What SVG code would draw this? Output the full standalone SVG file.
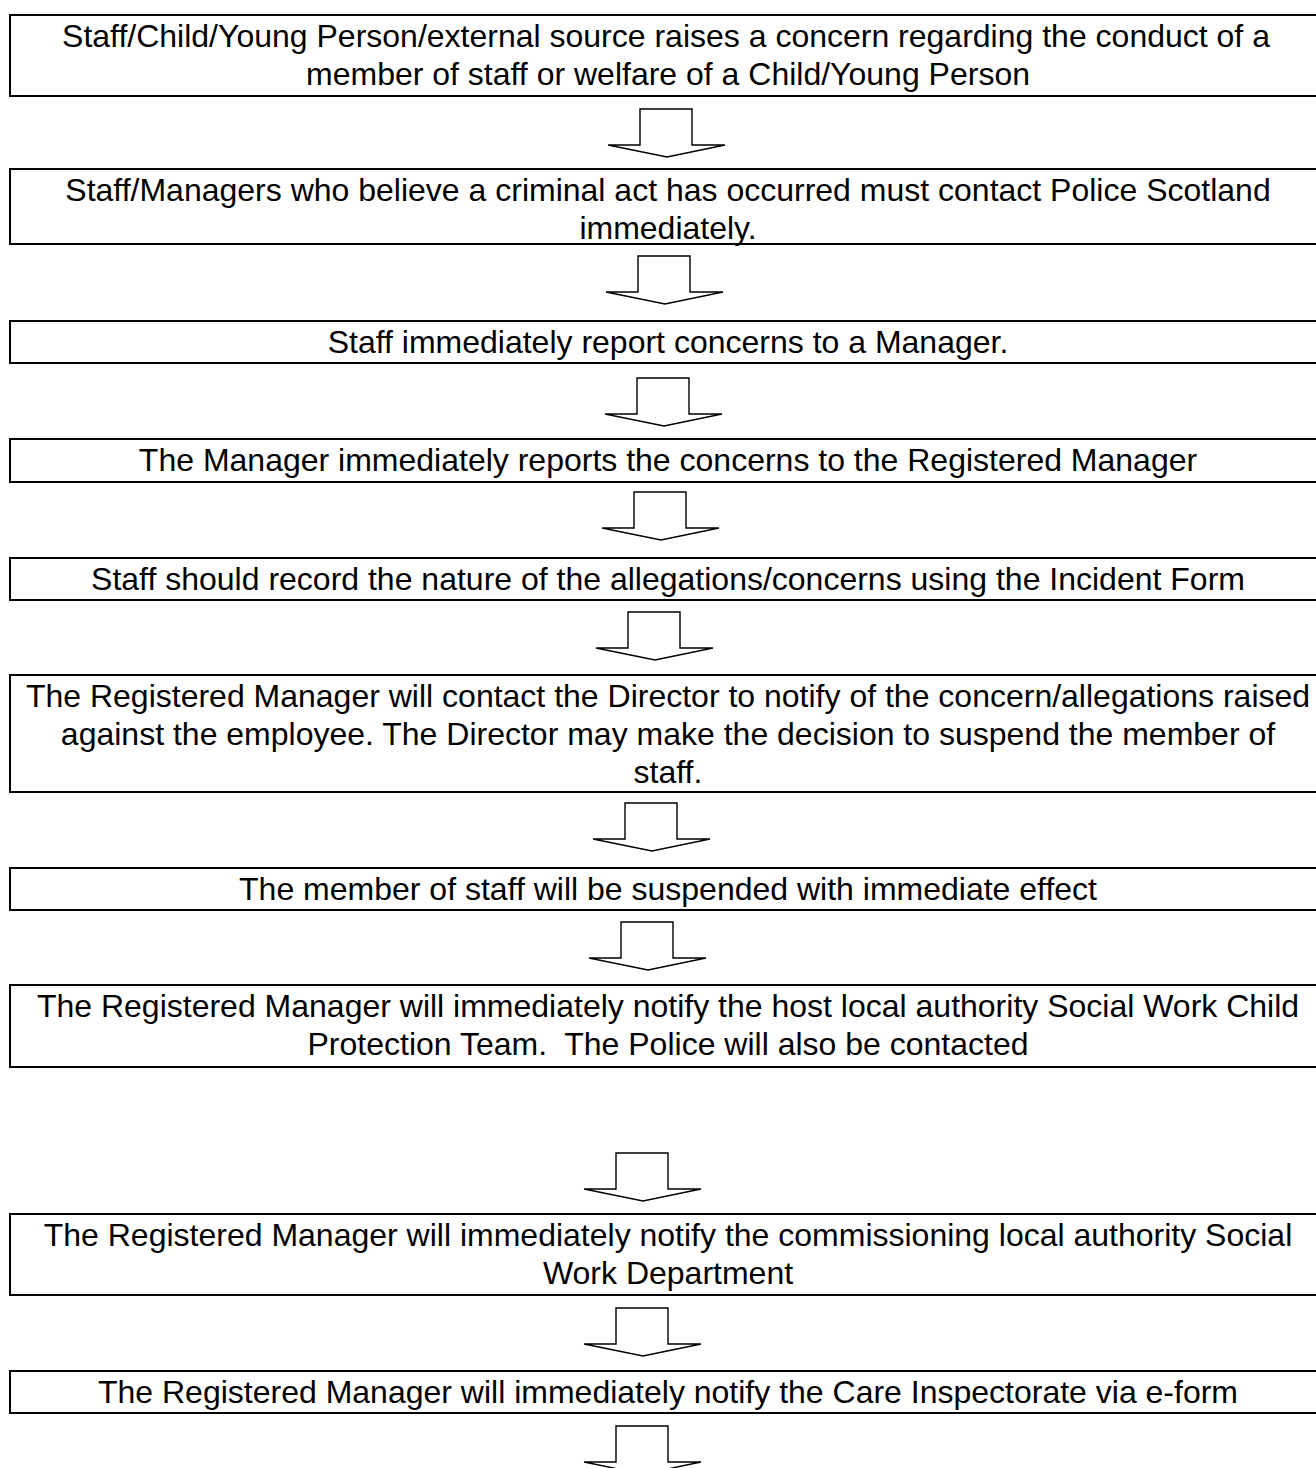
<svg xmlns="http://www.w3.org/2000/svg" width="1316" height="1468" viewBox="0 0 1316 1468">
<defs>
<style>
.box{fill:#fff;stroke:#000;stroke-width:2}
.t{font-family:"Liberation Sans",Arial,sans-serif;font-size:32px;fill:#000;text-anchor:middle;white-space:pre}
.arr{fill:#fff;stroke:#000;stroke-width:1.4;stroke-linejoin:miter}
</style>
<path id="arrow" d="M0,0 H52 V36 H85 L27,48 L-32,36 H0 Z"/>
</defs>
<rect width="1316" height="1468" fill="#fff"/>
<g id="connectors">
<use href="#arrow" class="arr" x="640" y="109"/>
<use href="#arrow" class="arr" x="638" y="256"/>
<use href="#arrow" class="arr" x="637" y="378"/>
<use href="#arrow" class="arr" x="634" y="492"/>
<use href="#arrow" class="arr" x="628" y="612"/>
<use href="#arrow" class="arr" x="625" y="803"/>
<use href="#arrow" class="arr" x="621" y="922"/>
<use href="#arrow" class="arr" x="616" y="1153"/>
<use href="#arrow" class="arr" x="616" y="1308"/>
<use href="#arrow" class="arr" x="616" y="1426"/>
</g>
<g id="n1"><rect class="box" x="10" y="15" width="1330" height="81"/>
<text class="t" x="666" y="47">Staff/Child/Young Person/external source raises a concern regarding the conduct of a</text>
<text class="t" x="668" y="85">member of staff or welfare of a Child/Young Person</text></g>
<g id="n2"><rect class="box" x="10" y="169" width="1330" height="75"/>
<text class="t" x="668" y="201">Staff/Managers who believe a criminal act has occurred must contact Police Scotland</text>
<text class="t" x="668" y="239">immediately.</text></g>
<g id="n3"><rect class="box" x="10" y="321" width="1330" height="42"/>
<text class="t" x="668" y="353">Staff immediately report concerns to a Manager.</text></g>
<g id="n4"><rect class="box" x="10" y="439" width="1330" height="43"/>
<text class="t" x="668" y="471">The Manager immediately reports the concerns to the Registered Manager</text></g>
<g id="n5"><rect class="box" x="10" y="558" width="1330" height="42"/>
<text class="t" x="668" y="590">Staff should record the nature of the allegations/concerns using the Incident Form</text></g>
<g id="n6"><rect class="box" x="10" y="675" width="1330" height="117"/>
<text class="t" x="668" y="707">The Registered Manager will contact the Director to notify of the concern/allegations raised</text>
<text class="t" x="668" y="745">against the employee. The Director may make the decision to suspend the member of</text>
<text class="t" x="668" y="783">staff.</text></g>
<g id="n7"><rect class="box" x="10" y="868" width="1330" height="42"/>
<text class="t" x="668" y="900">The member of staff will be suspended with immediate effect</text></g>
<g id="n8"><rect class="box" x="10" y="985" width="1330" height="82"/>
<text class="t" x="668" y="1017">The Registered Manager will immediately notify the host local authority Social Work Child</text>
<text class="t" x="668" y="1055">Protection Team.  The Police will also be contacted</text></g>
<g id="n9"><rect class="box" x="10" y="1214" width="1330" height="81"/>
<text class="t" x="668" y="1246">The Registered Manager will immediately notify the commissioning local authority Social</text>
<text class="t" x="668" y="1284">Work Department</text></g>
<g id="n10"><rect class="box" x="10" y="1371" width="1330" height="42"/>
<text class="t" x="668" y="1403">The Registered Manager will immediately notify the Care Inspectorate via e-form</text></g>
</svg>
